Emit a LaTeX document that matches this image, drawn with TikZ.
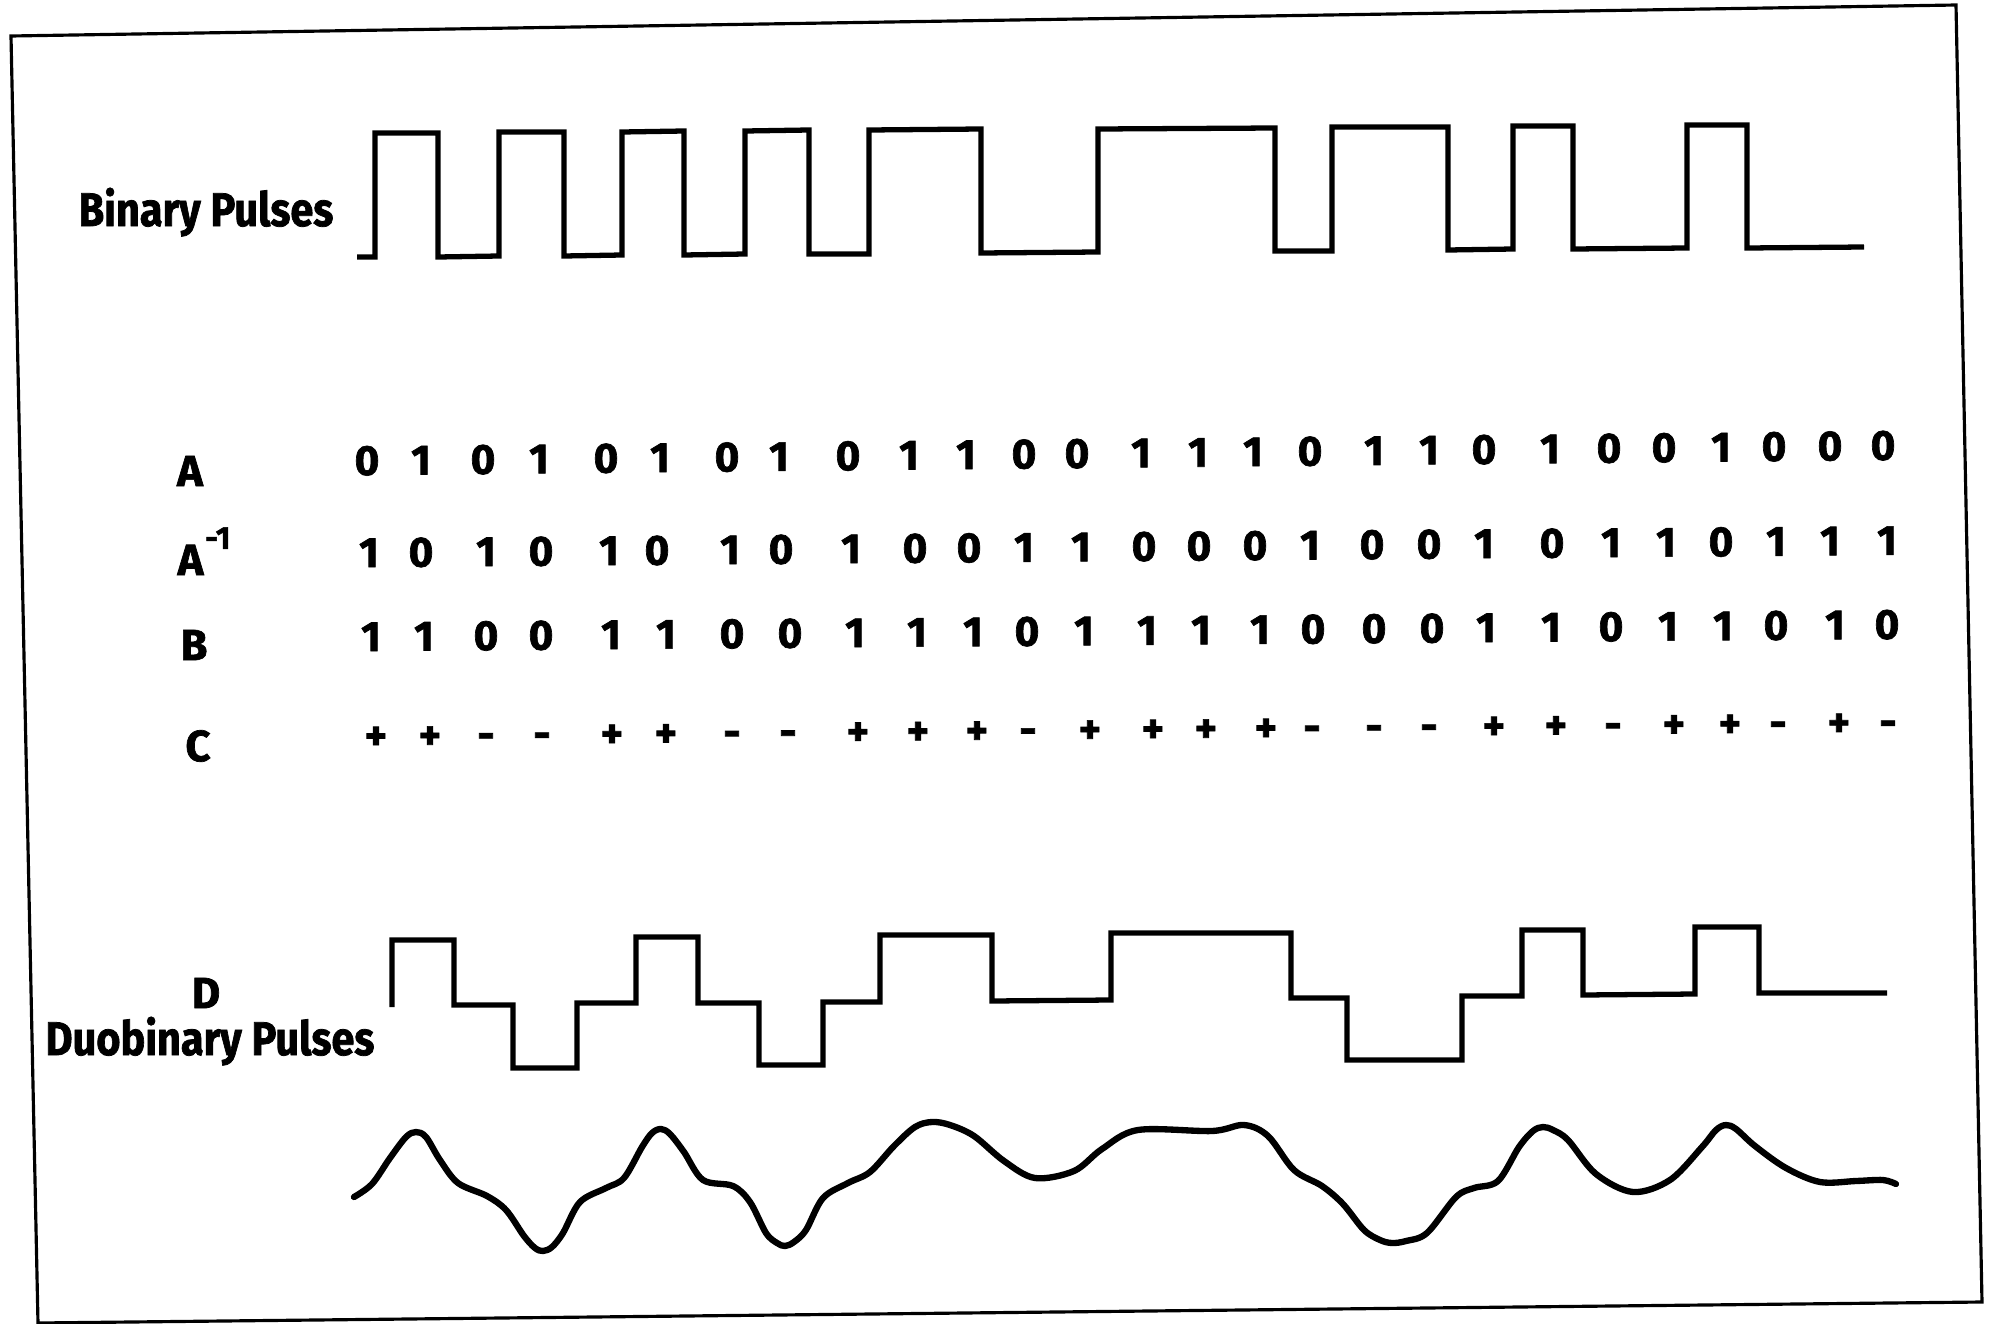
\documentclass[tikz,border=0pt]{standalone}
\usepackage{fontspec}
\setmainfont{Fira Sans}[BoldFeatures={FakeBold=1.6}]
\usepackage{graphicx}
\newcommand{\sqz}[1]{\scalebox{0.88}[1]{#1}}
\begin{document}
\begin{tikzpicture}[x=0.01cm,y=-0.01cm,
  frame/.style={line width=0.9pt,line join=miter},
  pulse/.style={line width=1.5pt,line join=miter},
  wave/.style={line width=1.8pt,line cap=round,line join=round},
  dg/.style={font=\bfseries\fontsize{12}{12}\selectfont,inner sep=0pt,anchor=base},
  lbl/.style={font=\bfseries\fontsize{12.4}{13}\selectfont,inner sep=0pt},
  ttl/.style={font=\bfseries\fontsize{13.4}{14}\selectfont,inner sep=0pt,anchor=base}]
\useasboundingbox (0,0) rectangle (1993,1324);
% frame
\draw[frame] (11,36) -- (1956,5) -- (1982,1302) -- (38,1323) -- cycle;
% titles
\node[ttl] (bp) at (206,226) {\sqz{Binary Pulses}};
\node[ttl] (dp) at (210,1055) {\sqz{Duobinary Pulses}};
% binary pulses
\draw[pulse] (357,257) -- (375,257) -- (375,133) -- (438,133) -- (438,257) -- (499,256) -- (499,132) -- (564,132) -- (564,256) -- (622,255) -- (622,132) -- (684,131) -- (684,255) -- (745,254) -- (745,131) -- (809,130) -- (809,254) -- (869,254) -- (869,130) -- (981,129) -- (981,253) -- (1098,252) -- (1098,129) -- (1275,128) -- (1275,251) -- (1332,251) -- (1332,127) -- (1448,127) -- (1448,250) -- (1513,249) -- (1513,126) -- (1573,126) -- (1573,249) -- (1687,248) -- (1687,125) -- (1747,125) -- (1747,248) -- (1864,247);
% row labels
\node[lbl] (la) at (190,471) {A};
\node[lbl,anchor=base west] (lai) at (177,575) {A\kern0.5pt\raisebox{0.6em}{\fontsize{9}{9}\selectfont -1}};
\node[lbl] (lb) at (194,645) {B};
\node[lbl] (lc) at (198,746) {C};
\node[lbl] (ld) at (206,993) {D};
% row A
\foreach \x/\d [count=\i] in {367/0,421/1,483/0,539/1,606/0,660/1,727/0,779/1,848/0,909/1,966/1,1024/0,1077/0,1141/1,1198/1,1253/1,1310/0,1374/1,1429/1,1484/0,1550/1,1609/0,1664/0,1721/1,1774/0,1830/0,1883/0}
  \node[dg] (a\i) at (\x,{475-0.01*(\x-367)}) {\d};
% row A^-1
\foreach \x/\d [count=\i] in {369/1,421/0,486/1,541/0,609/1,657/0,730/1,781/0,851/1,915/0,969/0,1024/1,1081/1,1144/0,1199/0,1255/0,1310/1,1372/0,1429/0,1484/1,1552/0,1611/1,1666/1,1721/0,1776/1,1830/1,1887/1}
  \node[dg] (ai\i) at (\x,{567-0.008*(\x-369)}) {\d};
% row B
\foreach \x/\d [count=\i] in {371/1,424/1,486/0,541/0,611/1,666/1,732/0,790/0,855/1,917/1,973/1,1027/0,1084/1,1147/1,1201/1,1260/1,1313/0,1374/0,1432/0,1486/1,1551/1,1611/0,1668/1,1723/1,1776/0,1835/1,1887/0}
  \node[dg] (b\i) at (\x,{651-0.008*(\x-371)}) {\d};
% row C
\foreach \x/\d [count=\i] in {376/+,430/+,486/-,542/-,612/+,666/+,732/-,788/-,858/+,918/+,977/+,1028/-,1090/+,1153/+,1206/+,1266/+,1312/-,1374/-,1429/-,1494/+,1556/+,1613/-,1674/+,1730/+,1778/-,1839/+,1888/-}
  \node[dg] (c\i) at (\x,{750-0.009*(\x-376)}) {\d};
% duobinary pulses
\draw[pulse] (392,1007) -- (392,940) -- (454,940) -- (454,1005) -- (513,1005) -- (513,1068) -- (577,1068) -- (577,1003) -- (636,1003) -- (636,937) -- (698,937) -- (698,1003) -- (759,1003) -- (759,1065) -- (823,1065) -- (823,1002) -- (880,1002) -- (880,935) -- (992,935) -- (992,1001) -- (1111,1000) -- (1111,933) -- (1291,933) -- (1291,998) -- (1347,998) -- (1347,1060) -- (1462,1060) -- (1462,996) -- (1522,996) -- (1522,930) -- (1583,930) -- (1583,995) -- (1695,994) -- (1695,927) -- (1759,927) -- (1759,993) -- (1887,993);
% smooth waveform
\draw[wave] plot[smooth,tension=0.55] coordinates {(354,1197) (372,1184) (390,1158) (406,1137) (416,1132) (426,1137) (440,1160) (458,1183) (487,1196) (506,1210) (524,1236) (535,1248) (543,1251) (552,1247) (563,1233) (580,1202) (606,1188) (624,1178) (642,1147) (652,1133) (661,1129) (670,1134) (684,1152) (703,1180) (733,1186) (750,1202) (766,1233) (777,1243) (785,1246) (794,1242) (806,1230) (823,1198) (848,1183) (870,1172) (894,1146) (915,1127) (932,1122) (950,1125) (974,1136) (1004,1161) (1035,1178) (1074,1171) (1102,1149) (1138,1130) (1212,1131) (1244,1125) (1268,1136) (1294,1170) (1322,1186) (1343,1204) (1364,1230) (1380,1240) (1392,1243) (1406,1241) (1427,1233) (1456,1197) (1474,1188) (1498,1181) (1519,1147) (1533,1131) (1543,1127) (1553,1130) (1568,1140) (1596,1174) (1633,1192) (1670,1180) (1702,1147) (1716,1130) (1726,1125) (1736,1129) (1755,1146) (1786,1168) (1820,1182) (1856,1181) (1883,1180) (1896,1184)};
\end{tikzpicture}
\end{document}
